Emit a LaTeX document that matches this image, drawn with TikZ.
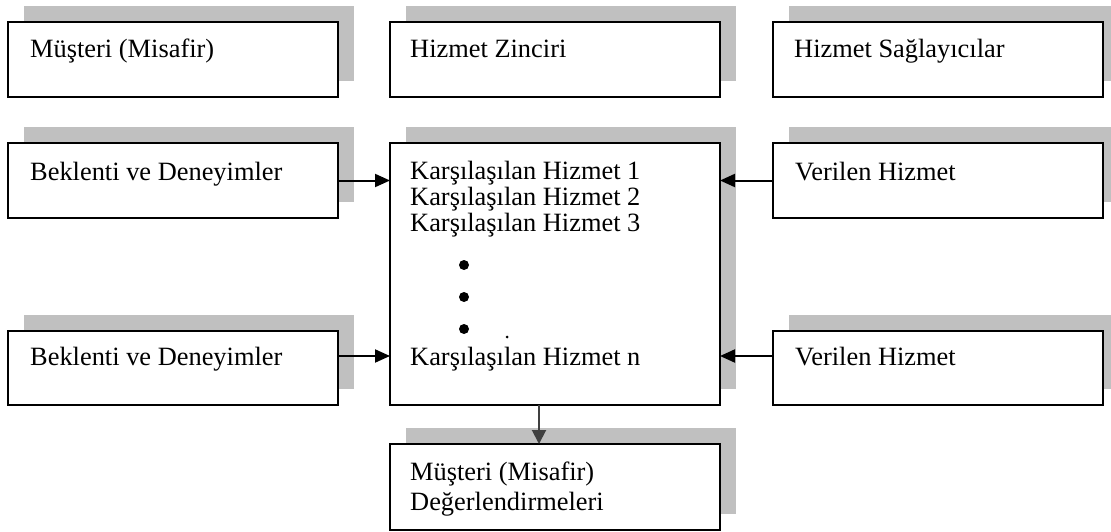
\documentclass[tikz,border=0pt]{standalone}
\usepackage{fontspec}
\setmainfont{Liberation Serif}
\usetikzlibrary{arrows.meta}
\definecolor{shadowgray}{HTML}{C0C0C0}
\definecolor{darkarrow}{HTML}{404040}
\tikzset{
  boxst/.style={draw=black, line width=1.8pt, fill=white, inner sep=0pt, outer sep=0pt, anchor=north west},
  txt/.style={anchor=base west, inner sep=0pt, font=\fontsize{26.4}{26}\selectfont},
  arr/.style={line width=2pt, -{Triangle[length=15pt,width=13pt]}},
  darr/.style={draw=darkarrow, line width=2pt, -{Triangle[length=14pt,width=14pt]}},
}
\newcommand\shbox[5]{%
  \fill[shadowgray] (#2+16,#3-16) rectangle (#4+16,#5-16);
  \node[boxst, minimum width={#4-#2}, minimum height={#5-#3}] (#1) at (#2,#3) {};
}
\begin{document}
\begin{tikzpicture}[x=1pt,y=-1pt]
\useasboundingbox (0,0) rectangle (1111,532);
\clip (0,0) rectangle (1111,532);
\fill[white] (0,0) rectangle (1111,532);
% row 1
\shbox{mus}{8}{22}{338}{97}
\shbox{zin}{390}{22}{720}{97}
\shbox{sag}{773}{22}{1103}{97}
\node[txt] (tmus) at (30,58) {Müşteri (Misafir)};
\node[txt] (tzin) at (410,58) {Hizmet Zinciri};
\node[txt] (tsag) at (794,58) {Hizmet Sağlayıcılar};
% row 2
\shbox{bk1}{8}{143}{338}{218}
\shbox{ctr}{390}{143}{720}{405}
\shbox{vh1}{773}{143}{1103}{218}
\node[txt] (tbk1) at (30,180) {Beklenti ve Deneyimler};
\node[txt] (tvh1) at (795,180) {Verilen Hizmet};
\node[txt] (k1) at (410,179) {Karşılaşılan Hizmet 1};
\node[txt] (k2) at (410,205) {Karşılaşılan Hizmet 2};
\node[txt] (k3) at (410,231) {Karşılaşılan Hizmet 3};
\fill (464,265) circle (5);
\fill (464,297) circle (5);
\fill (464,329) circle (5);
\fill (507,337) circle (1.5);
\node[txt] (kn) at (410,365) {Karşılaşılan Hizmet n};
% row 3
\shbox{bk2}{8}{331}{338}{405}
\shbox{vh2}{773}{331}{1103}{405}
\node[txt] (tbk2) at (30,365) {Beklenti ve Deneyimler};
\node[txt] (tvh2) at (795,365) {Verilen Hizmet};
% bottom
\shbox{deg}{390}{444}{720}{530}
\node[txt] (d1) at (410,480) {Müşteri (Misafir)};
\node[txt] (d2) at (410,510) {Değerlendirmeleri};
% arrows
\draw[arr] (bk1.east) -- (bk1.east -| ctr.west);
\draw[arr] (vh1.west) -- (vh1.west -| ctr.east);
\draw[arr] ([yshift=12pt]bk2.east) -- ([yshift=12pt]bk2.east -| ctr.west);
\draw[arr] ([yshift=12pt]vh2.west) -- ([yshift=12pt]vh2.west -| ctr.east);
\draw[darr] ([xshift=-16pt]ctr.south) -- ([xshift=-16pt]ctr.south |- deg.north);
\end{tikzpicture}
\end{document}
